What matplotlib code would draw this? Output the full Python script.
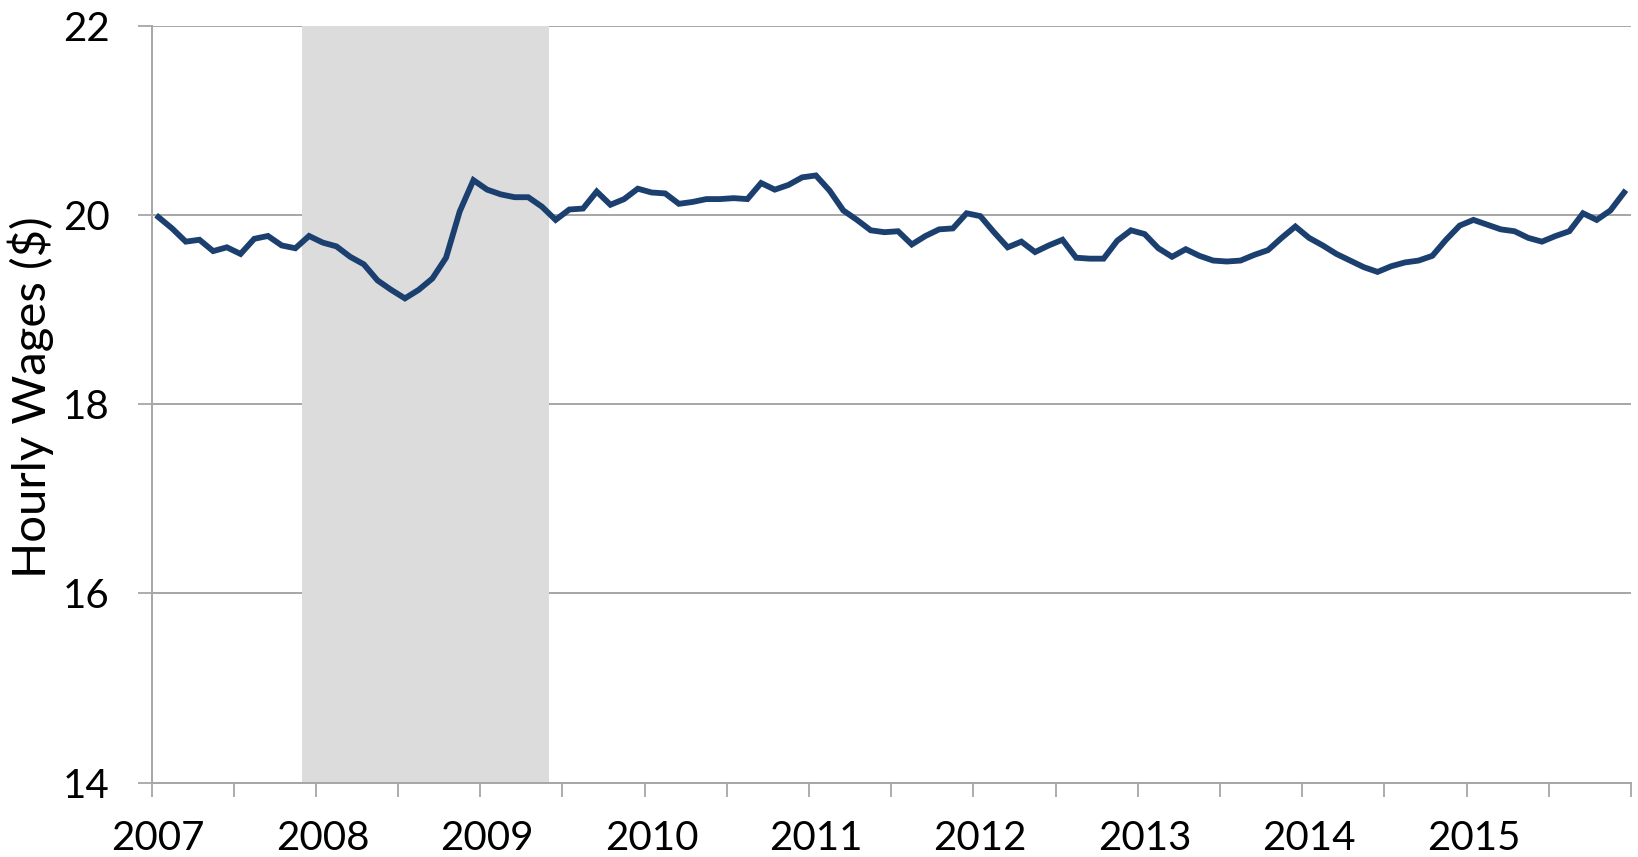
import matplotlib.pyplot as plt
import numpy as np

plt.rcParams['font.family'] = ['Lato', 'DejaVu Sans']

# monthly average hourly wages, Jan 2007 .. Dec 2015
wages = [19.98, 19.86, 19.72, 19.74, 19.62, 19.66, 19.59, 19.75, 19.78, 19.68, 19.65, 19.78,
         19.71, 19.67, 19.56, 19.48, 19.31, 19.21, 19.12, 19.21, 19.33, 19.55, 20.04, 20.37,
         20.27, 20.22, 20.19, 20.19, 20.09, 19.95, 20.06, 20.07, 20.25, 20.11, 20.17, 20.28,
         20.24, 20.23, 20.12, 20.14, 20.17, 20.17, 20.18, 20.17, 20.34, 20.27, 20.32, 20.40,
         20.42, 20.26, 20.05, 19.95, 19.84, 19.82, 19.83, 19.69, 19.78, 19.85, 19.86, 20.02,
         19.99, 19.82, 19.66, 19.72, 19.61, 19.68, 19.74, 19.55, 19.54, 19.54, 19.73, 19.84,
         19.80, 19.65, 19.56, 19.64, 19.57, 19.52, 19.51, 19.52, 19.58, 19.63, 19.76, 19.88,
         19.76, 19.68, 19.59, 19.52, 19.45, 19.40, 19.46, 19.50, 19.52, 19.57, 19.74, 19.89,
         19.95, 19.90, 19.85, 19.83, 19.76, 19.72, 19.78, 19.83, 20.02, 19.95, 20.05, 20.24]
years = [str(y) for y in range(2007, 2016)]
# recession: Dec 2007 through Jun 2009 (month index)
recession = (11, 29)

months = np.arange(len(wages)) + 0.5

fig = plt.figure(figsize=(16.38, 8.57), dpi=100)
ax = fig.add_axes([0.0925, 0.0869, 0.9032, 0.8827])

ax.axvspan(recession[0], recession[1], color='#dcdcdc', lw=0, zorder=1)
ax.plot(months, wages, color='#1b3f6f', lw=4.2, solid_joinstyle='miter', zorder=3)

ax.set_xlim(0, len(wages))
ax.set_ylim(14, 22)
ax.set_yticks([14, 16, 18, 20, 22])
ax.grid(axis='y', color='#a6a6a6', lw=1.4, zorder=0)
ax.set_axisbelow(True)

ax.set_xticks(np.arange(len(years)) * 12 + 0.5)
ax.set_xticklabels(years)
ax.set_xticks(np.arange(0, len(wages) + 1, 6), minor=True)
ax.tick_params(axis='x', which='major', length=0, pad=27, labelsize=29)
ax.tick_params(axis='x', which='minor', length=10, width=1.3, color='#a6a6a6',
               direction='out')
ax.tick_params(axis='y', length=10, width=1.3, color='#a6a6a6', pad=20, labelsize=29)

for s in ('top', 'right'):
    ax.spines[s].set_visible(False)
for s in ('left', 'bottom'):
    ax.spines[s].set_color('#a6a6a6')
    ax.spines[s].set_linewidth(1.4)

ax.set_ylabel('Hourly Wages ($)', fontsize=34)
ax.yaxis.set_label_coords(-0.066, 0.51)

fig.savefig('out.png', dpi=100)
